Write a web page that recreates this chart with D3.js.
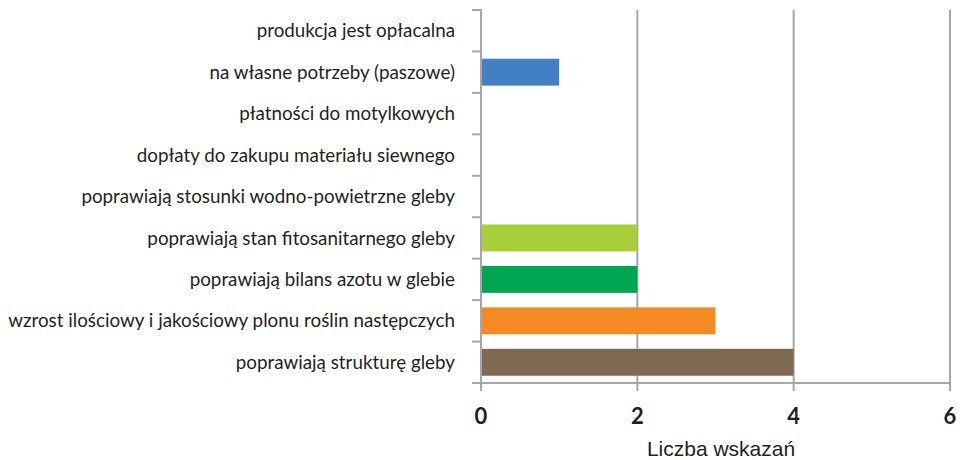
<!DOCTYPE html>
<html><head><meta charset="utf-8">
<script src="https://cdn.jsdelivr.net/npm/d3@7"></script>
<style>body{margin:0;background:#fff}</style>
</head><body>
<svg id="c" width="960" height="460"></svg>
<script>
const categories = [
  "produkcja jest opłacalna",
  "na własne potrzeby (paszowe)",
  "płatności do motylkowych",
  "dopłaty do zakupu materiału siewnego",
  "poprawiają stosunki wodno-powietrzne gleby",
  "poprawiają stan fitosanitarnego gleby",
  "poprawiają bilans azotu w glebie",
  "wzrost ilościowy i jakościowy plonu roślin następczych",
  "poprawiają strukturę gleby"
];
const values = [0, 1, 0, 0, 0, 2, 2, 3, 4];
const colors = ["#4a7ebb", "#4380c3", "#4a7ebb", "#4a7ebb", "#4a7ebb", "#a8cf3a", "#00a651", "#f58a23", "#7e6952"];
const xTicks = [0, 2, 4, 6];
const xTitle = "Liczba wskazań";

const svg = d3.select("#c");
const x = d3.scaleLinear().domain([0, 6]).range([481, 950]);
const y = d3.scaleBand().domain(categories).range([10, 383]).paddingInner(0.35).paddingOuter(0.175);
const grey = "#a6a6a6";
const font = "Lato, 'Open Sans', sans-serif";

svg.append("g").selectAll("line").data(xTicks.slice(1)).join("line")
  .attr("x1", d => x(d)).attr("x2", d => x(d))
  .attr("y1", 10).attr("y2", 391)
  .attr("stroke", grey).attr("stroke-width", 2);

svg.append("g").selectAll("rect").data(categories).join("rect")
  .attr("x", x(0))
  .attr("y", d => y(d))
  .attr("width", (d, i) => x(values[i]) - x(0))
  .attr("height", y.bandwidth())
  .attr("fill", (d, i) => colors[i]);

svg.append("line").attr("x1", x(0)).attr("x2", x(6)).attr("y1", 383).attr("y2", 383)
  .attr("stroke", grey).attr("stroke-width", 2);

svg.append("line").attr("x1", x(0)).attr("x2", x(0)).attr("y1", 9).attr("y2", 391)
  .attr("stroke", grey).attr("stroke-width", 2);

const bounds = d3.range(categories.length + 1).map(i => 10 + i * (373 / categories.length));
svg.append("g").selectAll("line").data(bounds).join("line")
  .attr("x1", x(0) - 9).attr("x2", x(0))
  .attr("y1", d => d).attr("y2", d => d)
  .attr("stroke", grey).attr("stroke-width", 2);

const labels = svg.append("g").selectAll("text").data(categories).join("text")
  .attr("x", 455)
  .attr("y", d => y(d) + y.bandwidth() / 2)
  .attr("dy", "0.35em")
  .attr("text-anchor", "end")
  .attr("font-family", font)
  .attr("font-size", 18)
  .attr("fill", "#231f20")
  .text(d => d);
let maxW = 0;
labels.each(function() { maxW = Math.max(maxW, this.getComputedTextLength()); });
const fs = 18 * 447 / maxW;
labels.attr("font-size", fs);

svg.append("g").selectAll("text").data(xTicks).join("text")
  .attr("x", d => x(d))
  .attr("y", 424)
  .attr("text-anchor", "middle")
  .attr("font-family", font)
  .attr("font-weight", "bold")
  .attr("font-size", 22)
  .attr("fill", "#231f20")
  .text(d => d);

svg.append("text").attr("x", 721).attr("y", 456)
  .attr("text-anchor", "middle")
  .attr("font-family", "'Liberation Sans', Arial, sans-serif")
  .attr("font-size", 21)
  .attr("fill", "#231f20")
  .text(xTitle);
</script>
</body></html>
